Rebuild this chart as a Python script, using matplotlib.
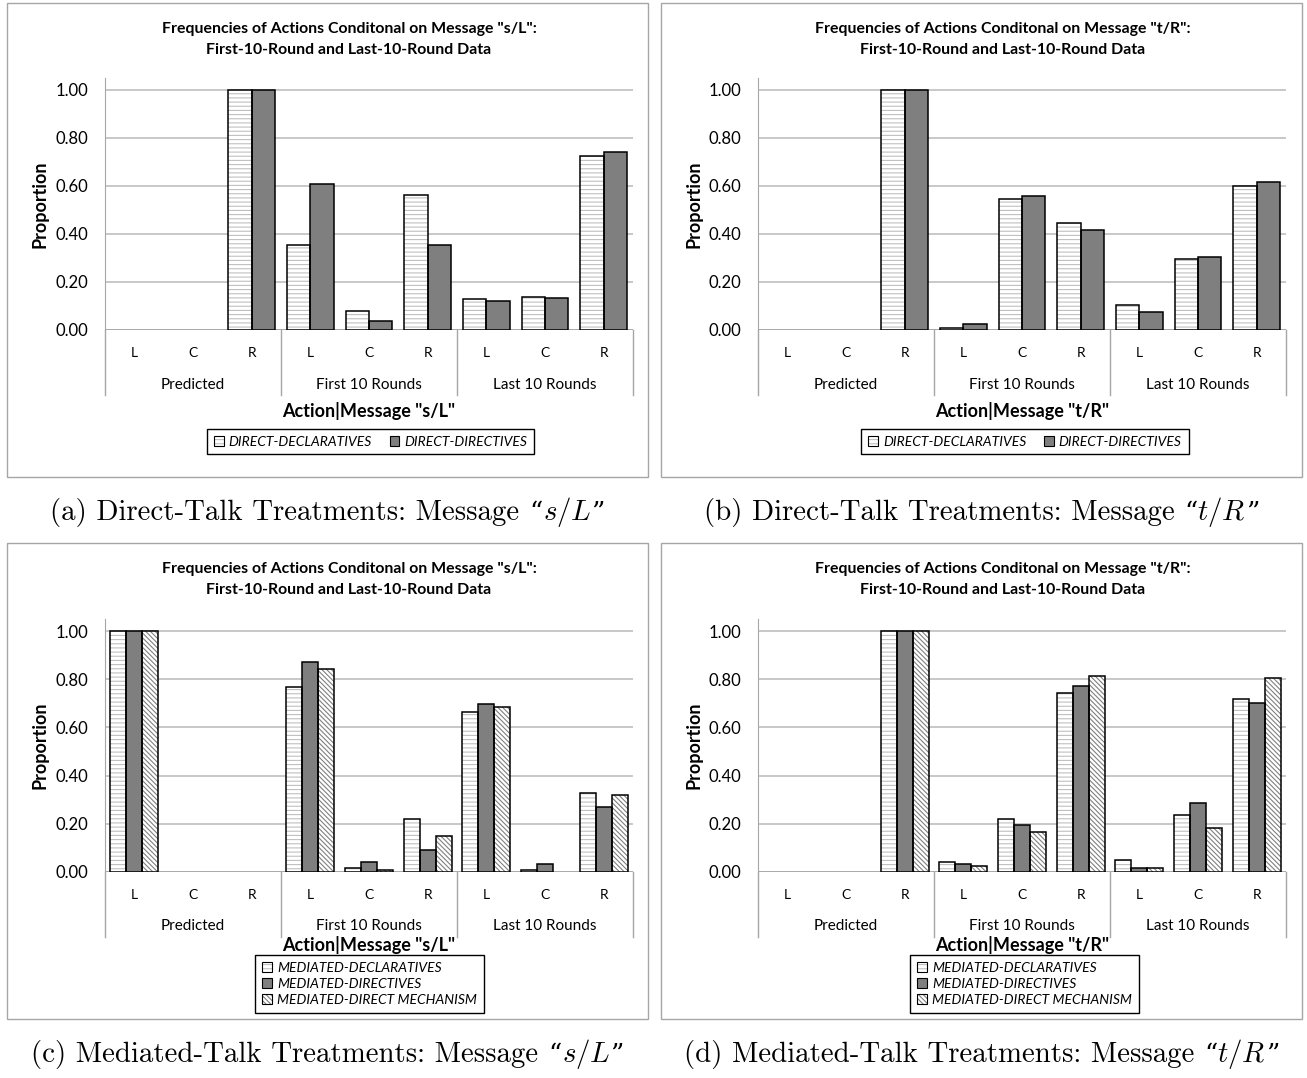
import matplotlib
matplotlib.use('Agg')
import matplotlib.pyplot as plt
import numpy as np
from matplotlib.patches import Rectangle, Patch
from matplotlib.ticker import FormatStrFormatter
from matplotlib.offsetbox import TextArea, HPacker, AnchoredOffsetbox

plt.rcParams['font.family'] = ['Lato', 'DejaVu Sans']
plt.rcParams['mathtext.fontset'] = 'cm'
plt.rcParams['hatch.linewidth'] = 0.8

W, H = 1307, 1078

actions = ['L', 'C', 'R'] * 3
groups = ['Predicted', 'First 10 Rounds', 'Last 10 Rounds']

# direct talk, message "s/L"
direct_sl_decl = [0, 0, 1.00, 0.354, 0.081, 0.563, 0.131, 0.139, 0.726]
direct_sl_dir = [0, 0, 1.00, 0.610, 0.037, 0.355, 0.121, 0.133, 0.742]
# direct talk, message "t/R"
direct_tr_decl = [0, 0, 1.00, 0.008, 0.545, 0.445, 0.103, 0.296, 0.601]
direct_tr_dir = [0, 0, 1.00, 0.024, 0.559, 0.416, 0.076, 0.305, 0.618]
# mediated talk, message "s/L"
med_sl_decl = [1.00, 0, 0, 0.768, 0.016, 0.218, 0.664, 0.010, 0.328]
med_sl_dir = [1.00, 0, 0, 0.870, 0.040, 0.090, 0.698, 0.034, 0.271]
med_sl_mech = [1.00, 0, 0, 0.843, 0.009, 0.150, 0.684, 0.000, 0.318]
# mediated talk, message "t/R"
med_tr_decl = [0, 0, 1.00, 0.040, 0.218, 0.744, 0.048, 0.235, 0.718]
med_tr_dir = [0, 0, 1.00, 0.034, 0.197, 0.771, 0.016, 0.285, 0.701]
med_tr_mech = [0, 0, 1.00, 0.023, 0.165, 0.813, 0.016, 0.182, 0.805]

# face colour, hatch, hatch colour
styles = {
    'DIRECT-DECLARATIVES': ('white', '----', '#c0c0c0'),
    'DIRECT-DIRECTIVES': ('#7f7f7f', '', '#7f7f7f'),
    'MEDIATED-DECLARATIVES': ('white', '----', '#c0c0c0'),
    'MEDIATED-DIRECTIVES': ('#7f7f7f', '', '#7f7f7f'),
    'MEDIATED-DIRECT MECHANISM': ('white', '\\\\\\\\\\\\\\', '#808080'),
}

GRID = '#bfbfbf'
AXC = '#a6a6a6'
CAP_SIZE = 20.8

fig = plt.figure(figsize=(W / 100, H / 100), dpi=100)


def fx(px):
    return px / W


def fy(py):
    return 1 - py / H


def caption(xc, yc, label, math):
    # cmr10 has no proper curly quotes, so those come from another serif font
    cm = dict(fontsize=CAP_SIZE, family='cmr10')
    qt = dict(fontsize=CAP_SIZE - 2, family='DejaVu Serif')
    quoted = HPacker(children=[TextArea('\u201c', textprops=qt),
                               TextArea(math, textprops=cm),
                               TextArea('\u201d', textprops=qt)],
                     align='baseline', pad=0, sep=0)
    row = HPacker(children=[TextArea(label + ' Message', textprops=cm), quoted],
                  align='baseline', pad=0, sep=7)
    box = AnchoredOffsetbox(loc='center', child=row, pad=0, borderpad=0, frameon=False,
                            bbox_to_anchor=(fx(xc), fy(yc)), bbox_transform=fig.transFigure)
    fig.add_artist(box)


def panel(left, right, top, zero, fl, ft, fb, msg, series, cap, math, lay, ncol):
    fr = fl + 641
    # outer frame
    fig.add_artist(Rectangle((fx(fl), fy(fb)), (fr - fl) / W, (fb - ft) / H,
                             transform=fig.transFigure, fill=False, ec=AXC, lw=1))
    ax = fig.add_axes([fx(left), fy(zero), (right - left) / W, (zero - top) / H])
    ax_h = zero - top
    x = np.arange(9)
    n = len(series)
    w = 0.8 / n if n == 2 else 0.273
    handles = []
    for i, (name, vals) in enumerate(series):
        face, hatch, hc = styles[name]
        pos = x + (i - (n - 1) / 2) * w
        lws = [1.1 if v > 0 else 0 for v in vals]
        # hatch pass in its own colour, then a black outline on top
        ax.bar(pos, vals, w, color=face, edgecolor=hc, linewidth=0, hatch=hatch, zorder=2)
        ax.bar(pos, vals, w, facecolor='none', edgecolor='black', linewidth=lws, zorder=3)
        handles.append((Patch(facecolor=face, edgecolor=hc, hatch=hatch, linewidth=0),
                        Patch(facecolor='none', edgecolor='black', linewidth=0.8)))
    ax.set_xlim(-0.5, 8.5)
    ax.set_ylim(0, 1.05)
    ax.set_yticks(np.arange(0, 1.01, 0.2))
    ax.yaxis.set_major_formatter(FormatStrFormatter('%.2f'))
    ax.grid(axis='y', color=GRID, lw=1.2)
    ax.set_axisbelow(True)
    for s in ['top', 'right', 'bottom']:
        ax.spines[s].set_visible(False)
    ax.spines['left'].set_color(AXC)
    ax.axhline(0, color=AXC, lw=1.2, zorder=1)
    ax.tick_params(axis='y', length=0, pad=12, labelsize=12)
    ax.set_xticks(x, actions)
    ax.tick_params(axis='x', length=0, pad=12, labelsize=10)

    lx0, ly0, lx1, ly1, sep_px, grp_px, xl_px = lay
    trans = ax.get_xaxis_transform()
    for b in [-0.5, 2.5, 5.5, 8.5]:
        ax.plot([b, b], [0, -(sep_px - zero) / ax_h], transform=trans, clip_on=False,
                color=AXC, lw=1)
    for k, g in enumerate(groups):
        ax.text(3 * k + 1, -(grp_px - zero) / ax_h, g, transform=trans,
                ha='center', va='center', fontsize=11)

    # titles and labels
    fig.text(fx(fl + 342), fy(ft + 26),
             'Frequencies of Actions Conditonal on Message "%s":' % msg,
             ha='center', va='center', fontsize=11.4, fontweight='bold')
    fig.text(fx(fl + 342), fy(ft + 47), 'First-10-Round and Last-10-Round Data',
             ha='center', va='center', fontsize=11.4, fontweight='bold')
    fig.text(fx(fl + 33), fy((top + zero) / 2), 'Proportion', rotation=90,
             ha='center', va='center', fontsize=13, fontweight='bold')
    fig.text(fx((left + right) / 2), fy(xl_px), 'Action|Message "%s"' % msg,
             ha='center', va='center', fontsize=13, fontweight='bold')

    leg = fig.legend(handles, [s[0] for s in series], ncol=ncol,
                     loc='center', bbox_to_anchor=(fx((lx0 + lx1) / 2), fy((ly0 + ly1) / 2)),
                     frameon=True, fancybox=False, framealpha=1, edgecolor='black',
                     prop={'style': 'italic', 'size': 10}, handlelength=0.7,
                     handleheight=0.7, handletextpad=0.35, columnspacing=1.3,
                     labelspacing=0.3, borderpad=0.5)
    leg.get_frame().set_linewidth(1)

    caption(fl + 320.5, fb + 35, cap, math)
    return ax


# layout rows: legend x0, y0, x1, y1, separator bottom, group label y, x label y
panel(105, 633, 78, 330, 7, 3, 477, 's/L',
      [('DIRECT-DECLARATIVES', direct_sl_decl), ('DIRECT-DIRECTIVES', direct_sl_dir)],
      '(a) Direct-Talk Treatments:', r'$s/L$',
      (200, 428, 541, 455, 395, 385, 411), 2)
panel(758, 1286, 78, 330, 661, 3, 477, 't/R',
      [('DIRECT-DECLARATIVES', direct_tr_decl), ('DIRECT-DIRECTIVES', direct_tr_dir)],
      '(b) Direct-Talk Treatments:', r'$t/R$',
      (855, 428, 1195, 455, 395, 385, 411), 2)
panel(105, 633, 619, 872, 7, 543, 1019, 's/L',
      [('MEDIATED-DECLARATIVES', med_sl_decl), ('MEDIATED-DIRECTIVES', med_sl_dir),
       ('MEDIATED-DIRECT MECHANISM', med_sl_mech)],
      '(c) Mediated-Talk Treatments:', r'$s/L$',
      (248, 957, 491, 1011, 937, 926, 945), 1)
panel(758, 1286, 619, 872, 661, 543, 1019, 't/R',
      [('MEDIATED-DECLARATIVES', med_tr_decl), ('MEDIATED-DIRECTIVES', med_tr_dir),
       ('MEDIATED-DIRECT MECHANISM', med_tr_mech)],
      '(d) Mediated-Talk Treatments:', r'$t/R$',
      (902, 957, 1147, 1011, 937, 926, 945), 1)

fig.savefig('out.png', dpi=100, facecolor='white')
